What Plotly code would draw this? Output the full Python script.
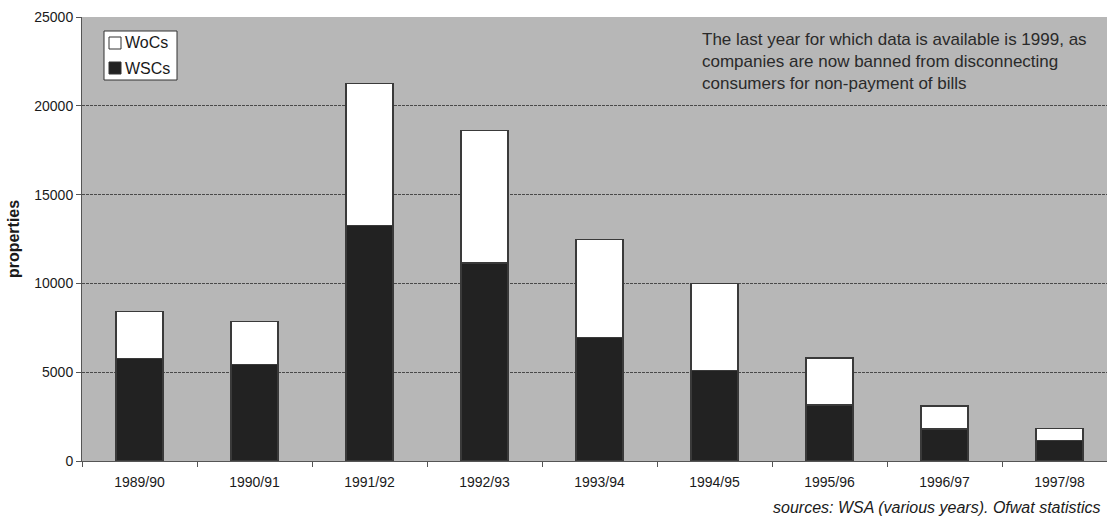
import plotly.graph_objects as go

# Disconnections of domestic properties for non-payment, by company type
years = ["1989/90", "1990/91", "1991/92", "1992/93", "1993/94",
         "1994/95", "1995/96", "1996/97", "1997/98"]
wscs = [5750, 5450, 13250, 11150, 6950, 5100, 3150, 1800, 1150]
wocs = [2650, 2400, 8000, 7450, 5500, 4900, 2650, 1300, 700]
y_ticks = [0, 5000, 10000, 15000, 20000, 25000]
legend_names = ["WoCs", "WSCs"]
legend_fills = ["#ffffff", "#222222"]

FONT = "Liberation Sans, Arial, Helvetica, sans-serif"
OUTLINE = dict(color="#3a3a3a", width=1.2)

W, H = 1107, 519
L, R, T, B = 82, 0, 17, 58
PW, PH = W - L - R, H - T - B


def px_x(x):
    return (x - L) / PW


def px_y(y):
    return (H - B - y) / PH


fig = go.Figure()
fig.add_trace(go.Bar(
    x=years, y=wscs, name="WSCs",
    marker=dict(color=legend_fills[1], line=OUTLINE), width=0.41,
))
fig.add_trace(go.Bar(
    x=years, y=wocs, name="WoCs",
    marker=dict(color=legend_fills[0], line=OUTLINE), width=0.41,
))

fig.update_layout(
    width=W, height=H,
    barmode="stack",
    paper_bgcolor="#ffffff",
    plot_bgcolor="#b7b7b7",
    margin=dict(l=L, r=R, t=T, b=B, pad=0),
    font=dict(family=FONT, size=14, color="#1a1a1a"),
    showlegend=False,
    xaxis=dict(
        type="category",
        range=[-0.5, -0.5 + PW / 115],
        tickson="boundaries",
        ticks="outside", ticklen=5, tickcolor="#555555",
        showline=True, linecolor="#555555", linewidth=1,
        showgrid=False,
        tickfont=dict(size=14),
        ticklabelstandoff=8,
    ),
    yaxis=dict(
        range=[0, 25000],
        tickvals=y_ticks,
        ticktext=[str(v) for v in y_ticks],
        ticks="outside", ticklen=5, tickcolor="#555555",
        showline=True, linecolor="#555555", linewidth=1,
        showgrid=True, gridcolor="#4a4a4a", gridwidth=1, griddash="3px,1px",
        zeroline=False,
        tickfont=dict(size=14),
        title=dict(text="<b>properties</b>", font=dict(size=16), standoff=10),
    ),
)

# Key box in the upper left of the plot
fig.add_shape(
    type="rect", xref="paper", yref="paper",
    x0=px_x(104), x1=px_x(177), y0=px_y(80), y1=px_y(31),
    fillcolor="#ffffff", line=dict(color="#333333", width=1),
)
for i, (name, fill) in enumerate(zip(legend_names, legend_fills)):
    cy = 43 + 25 * i
    fig.add_shape(
        type="rect", xref="paper", yref="paper",
        x0=px_x(109), x1=px_x(121), y0=px_y(cy + 6), y1=px_y(cy - 6),
        fillcolor=fill, line=dict(color="#333333", width=1),
    )
    fig.add_annotation(
        xref="paper", yref="paper", x=px_x(123), y=px_y(cy),
        xanchor="left", yanchor="middle", showarrow=False,
        text=name, font=dict(size=16, color="#1a1a1a"),
    )

fig.add_annotation(
    xref="paper", yref="paper", x=px_x(700), y=px_y(28),
    xanchor="left", yanchor="top", align="left", showarrow=False,
    text="The last year for which data is available is 1999, as<br>"
         "companies are now banned from disconnecting<br>"
         "consumers for non-payment of bills",
    font=dict(size=17, color="#2a2a2a"),
)
fig.add_annotation(
    xref="paper", yref="paper", x=px_x(1102), y=px_y(507),
    xanchor="right", yanchor="middle", showarrow=False,
    text="<i>sources: WSA (various years). Ofwat statistics</i>",
    font=dict(size=16, color="#1a1a1a"),
)

fig.write_html("out.html")
